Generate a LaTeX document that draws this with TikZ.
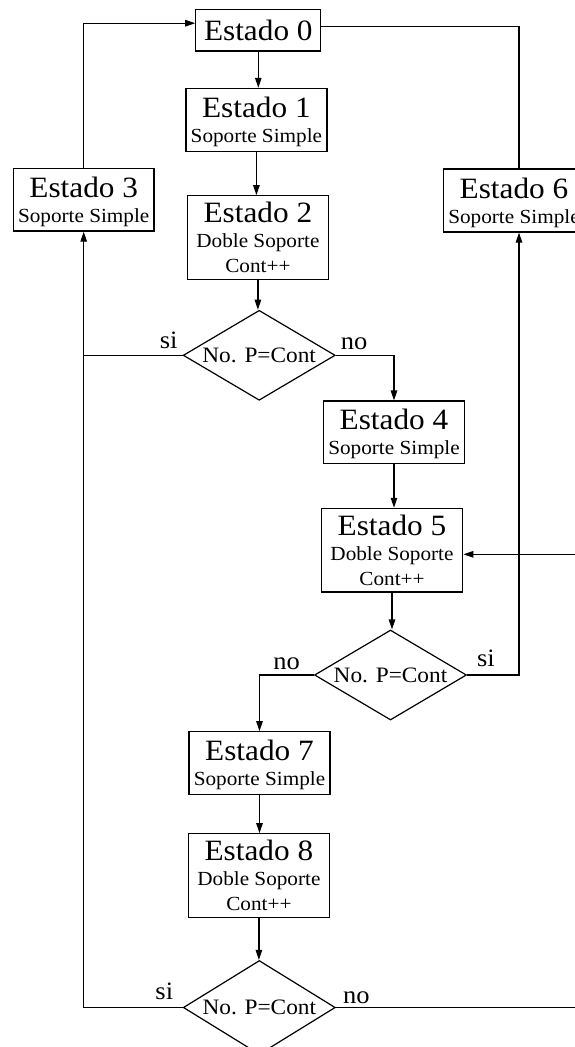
\documentclass[tikz,border=0pt]{standalone}
\usepackage{fontspec}
\setmainfont{Liberation Serif}[FakeStretch=1.06]
\usetikzlibrary{arrows.meta,shapes.geometric,calc}
\newcommand{\bigtxt}[1]{{\fontsize{29.5}{29.5}\selectfont #1}}
\begin{document}
\begin{tikzpicture}[x=1pt,y=-1pt,
  line width=1.2pt,
  arr/.style={-{Triangle[length=10pt,width=6.5pt]}},
  lbl/.style={font=\fontsize{25}{25}\selectfont, inner sep=0pt, anchor=base},
  box/.style={draw, inner sep=0pt, align=center, text depth=0pt,
    font=\fontsize{20}{25}\selectfont, minimum width=141pt},
  dec/.style={draw, diamond, aspect=1.69, inner sep=0pt,
    font=\fontsize{22}{22}\selectfont, minimum width=152pt, minimum height=90pt}
]
\useasboundingbox (0,0) rectangle (575,1047);
\clip (0,0) rectangle (575,1047);

\node[box, minimum width=125pt, minimum height=41.7pt] (E0) at (258.3,30.2) {\bigtxt{Estado 0}};
\node[box, minimum height=63.4pt] (E1) at (256.4,120.1) {\bigtxt{Estado 1}\\Soporte Simple};
\node[box, minimum height=83.6pt] (E2) at (257.9,237.5) {\bigtxt{Estado 2}\\Doble Soporte\\Cont++};
\node[dec] (D1) at (259.2,355.3) {No. P=Cont};
\node[box, minimum width=140.7pt, minimum height=62.7pt] (E3) at (83.7,199.7) {\bigtxt{Estado 3}\\Soporte Simple};
\node[box, minimum height=63pt] (E6) at (514,200.5) {\bigtxt{Estado 6}\\Soporte Simple};
\node[box, minimum width=141.4pt, minimum height=62.3pt] (E4) at (394,432.2) {\bigtxt{Estado 4}\\Soporte Simple};
\node[box, minimum width=141.6pt, minimum height=83.7pt] (E5) at (392,550.2) {\bigtxt{Estado 5}\\Doble Soporte\\Cont++};
\node[dec] (D2) at (390.5,675) {No. P=Cont};
\node[box, minimum height=63pt] (E7) at (259.5,763.2) {\bigtxt{Estado 7}\\Soporte Simple};
\node[box, minimum height=84pt] (E8) at (258.9,875.7) {\bigtxt{Estado 8}\\Doble Soporte\\Cont++};
\node[dec, minimum height=94pt] (D3) at (259.3,1007.5) {No. P=Cont};

\coordinate (rc) at (600,554.3);

\node[lbl] (si1) at (168.7,348.5) {si};
\node[lbl] (no1) at (354,349) {no};
\node[lbl] (no2) at (286.7,669.3) {no};
\node[lbl] (si2) at (486,666.7) {si};
\node[lbl] (si3) at (164.3,999.3) {si};
\node[lbl] (no3) at (356.4,1003) {no};

\draw[arr] (E0.south) -- (E0.south |- E1.north);
\draw[arr] (E1.south) -- (E1.south |- E2.north);
\draw[arr] (E2.south) -- (E2.south |- D1.north);
\draw[arr] (D1.east) -| (E4.north);
\draw (D1.west) -- (D1.west -| E3.south);
\draw[arr] (D3.west) -| (E3.south);
\draw[arr] (E3.north) |- ([yshift=7pt]E0.west);
\draw ([yshift=4pt]E0.east) -| ([xshift=5pt]E6.north);
\draw[arr] (E4.south) -- (E4.south |- E5.north);
\draw[arr] (E5.south) -- (E5.south |- D2.north);
\draw[arr] (D2.east) -| ([xshift=5pt]E6.south);
\draw[arr] (D2.west) -| (E7.north);
\draw[arr] (E7.south) -- (E7.south |- E8.north);
\draw[arr] (E8.south) -- (E8.south |- D3.north);
\draw[arr] (D3.east) -| (rc) -- (rc -| E5.east);
\end{tikzpicture}
\end{document}
